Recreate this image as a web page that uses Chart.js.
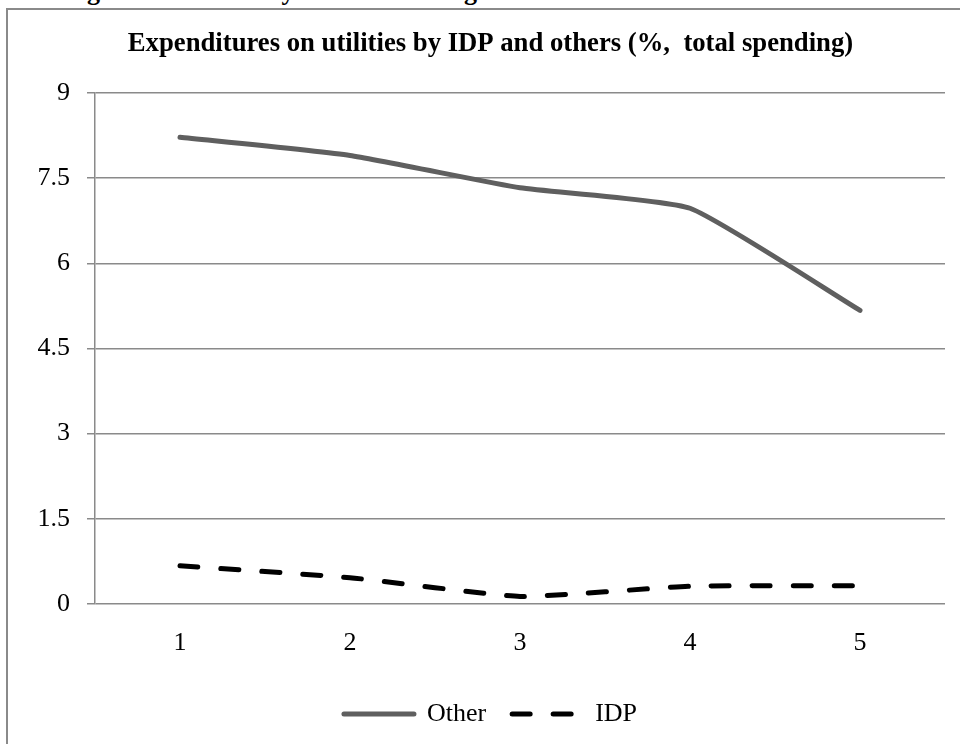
<!DOCTYPE html>
<html>
<head>
<meta charset="utf-8">
<script src="https://cdn.jsdelivr.net/npm/chart.js@4/dist/chart.umd.min.js"></script>
<style>
    body { margin: 0; background: #fff; overflow: hidden; }
    #heading {
        position: absolute; left: 64px; top: -21px; margin: 0;
        font: bold 26px 'Liberation Serif', serif; line-height: 1; color: #000;
        white-space: nowrap; z-index: 2;
    }
    #box {
        position: absolute; left: 6px; top: 8px; width: 964px; height: 760px;
        border: 2px solid #8a8a8a; background: #fff;
    }
</style>
</head>
<body>
<p id="heading">Figure 3.1: IDPs Pay Less or Nothing for Utilities</p>
<div id="box"><canvas id="myChart" width="964" height="734"></canvas></div>
<script>
// data
const quintiles = ['1', '2', '3', '4', '5'];
const other_values = [8.22, 7.9, 7.33, 6.97, 5.17];
const idp_values = [0.67, 0.46, 0.13, 0.31, 0.32];
const y_ticks = [0, 1.5, 3, 4.5, 6, 7.5, 9];

const serif = "'Liberation Serif', 'Times New Roman', serif";

// line chart dataset
const dataset = {
    labels: quintiles,
    datasets: [{
        label: 'Other',
        data: other_values,
        borderColor: '#5f5f5f',
        backgroundColor: '#5f5f5f',
        borderWidth: 5,
        borderCapStyle: 'round',
        pointRadius: 0,
        pointStyle: 'line',
        tension: 0.15
    }, {
        label: 'IDP',
        data: idp_values,
        borderColor: '#000',
        backgroundColor: '#000',
        borderWidth: 5,
        borderDash: [18, 23],
        borderCapStyle: 'round',
        pointRadius: 0,
        pointStyle: 'line',
        tension: 0.15
    }]
};

// legend items: copy the dash and caps of each line
function legend_labels(chart) {
    const items = Chart.defaults.plugins.legend.labels.generateLabels(chart);
    items.forEach(function(item) {
        const ds = chart.data.datasets[item.datasetIndex];
        item.lineDash = ds.borderDash || [];
        item.lineCap = 'round';
        item.lineWidth = 5;
        item.strokeStyle = ds.borderColor;
    });
    return items;
}

// line chart configuration
const config = {
    type: 'line',
    data: dataset,
    options: {
        responsive: false,
        animation: false,
        layout: { padding: { left: 28, right: 27, bottom: 7 } },
        plugins: {
            title: {
                display: true,
                text: 'Expenditures on utilities by IDP and others (%,  total spending)',
                color: '#000',
                font: { family: serif, size: 26.7, weight: 'bold' },
                padding: { top: 18, bottom: 33 }
            },
            legend: {
                position: 'bottom',
                labels: {
                    usePointStyle: true,
                    pointStyleWidth: 70,
                    boxHeight: 5,
                    color: '#000',
                    padding: 26,
                    font: { family: serif, size: 26 },
                    generateLabels: legend_labels
                }
            },
            tooltip: { enabled: false }
        },
        scales: {
            x: {
                offset: true,
                grid: { display: false },
                border: { display: false },
                ticks: { color: '#000', padding: 16, font: { family: serif, size: 26 } }
            },
            y: {
                min: 0,
                max: 9,
                afterFit: function(scale) { scale.width = 59; },
                afterBuildTicks: function(scale) {
                    scale.ticks = y_ticks.map(function(v) { return { value: v }; });
                },
                grid: { color: '#8a8a8a', lineWidth: 1.5, tickLength: 8 },
                border: { color: '#8a8a8a', width: 1.5 },
                ticks: { color: '#000', padding: 17, font: { family: serif, size: 26 } }
            }
        }
    }
};

const myChart = new Chart(document.getElementById('myChart'), config);
</script>
</body>
</html>
